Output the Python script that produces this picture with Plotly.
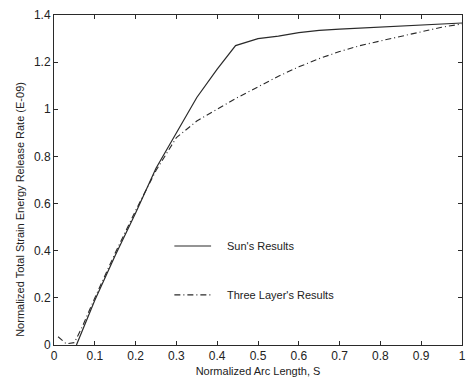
import plotly.graph_objects as go

# Sun's Results (solid)
sun_s = [0.055, 0.1, 0.15, 0.2, 0.25, 0.3, 0.35, 0.4, 0.445, 0.5, 0.55, 0.6, 0.65, 0.7, 0.8, 0.9, 1.0]
sun_g = [0.0, 0.19, 0.38, 0.56, 0.75, 0.90, 1.05, 1.17, 1.27, 1.30, 1.31, 1.325, 1.335, 1.34, 1.348, 1.355, 1.366]

# Three Layer's Results (dash-dot)
three_s = [0.01, 0.03, 0.05, 0.07, 0.1, 0.15, 0.2, 0.25, 0.3, 0.35, 0.4, 0.45, 0.5, 0.55, 0.6, 0.65,
           0.7, 0.75, 0.8, 0.85, 0.9, 0.95, 1.0]
three_g = [0.035, 0.005, 0.01, 0.08, 0.2, 0.39, 0.57, 0.74, 0.88, 0.95, 1.0, 1.05, 1.095, 1.14, 1.18,
           1.215, 1.245, 1.27, 1.29, 1.31, 1.33, 1.348, 1.362]

x_ticks = [0, 0.1, 0.2, 0.3, 0.4, 0.5, 0.6, 0.7, 0.8, 0.9, 1]
x_labels = ["0", "0.1", "0.2", "0.3", "0.4", "0.5", "0.6", "0.7", "0.8", "0.9", "1"]
y_ticks = [0, 0.2, 0.4, 0.6, 0.8, 1.0, 1.2, 1.4]
y_labels = ["0", "0.2", "0.4", "0.6", "0.8", "1", "1.2", "1.4"]

names = ["Sun's Results", "Three Layer's Results"]
ink = "#2a2a2a"
font = "Liberation Sans, Arial, sans-serif"

fig = go.Figure()
fig.add_trace(go.Scatter(x=sun_s, y=sun_g, mode="lines", name=names[0],
                         line=dict(color=ink, width=1.2), showlegend=False))
fig.add_trace(go.Scatter(x=three_s, y=three_g, mode="lines", name=names[1],
                         line=dict(color=ink, width=1.1, dash="6px,3px,1px,3px"), showlegend=False))

axis_common = dict(showline=True, linecolor=ink, linewidth=1, mirror="ticks", ticks="inside",
                   ticklen=4, tickcolor=ink, showgrid=False, zeroline=False,
                   tickfont=dict(family=font, size=12, color="#222"))

fig.update_xaxes(range=[0, 1], tickvals=x_ticks, ticktext=x_labels,
                 title=dict(text="Normalized Arc Length, S", font=dict(family=font, size=11, color="#222"),
                            standoff=4), **axis_common)
fig.update_yaxes(range=[0, 1.4], tickvals=y_ticks, ticktext=y_labels, **axis_common)

# y-axis title placed as in the reference (slightly below centre)
fig.add_annotation(text="Normalized Total Strain Energy Release Rate (E-09)", xref="paper", yref="paper",
                   x=-0.083, y=0.41, textangle=-90, showarrow=False,
                   font=dict(family=font, size=11, color="#222"), xanchor="center", yanchor="middle")

# legend drawn inside the plot
legend_rows = [(0.30, "solid"), (0.152, "6px,3px,1px,3px")]
for (yy, dash), name in zip(legend_rows, names):
    fig.add_shape(type="line", xref="paper", yref="paper", x0=0.295, x1=0.385, y0=yy, y1=yy,
                  line=dict(color=ink, width=1.1, dash=dash))
    fig.add_annotation(text=name, xref="paper", yref="paper", x=0.418, y=yy, xanchor="left",
                       yanchor="middle", showarrow=False, font=dict(family=font, size=11, color="#222"))

fig.update_layout(width=470, height=383, margin=dict(l=54, r=4, t=15, b=38),
                  paper_bgcolor="white", plot_bgcolor="white")

fig.write_html("out.html", config={"displayModeBar": False},
               post_script="document.body.style.margin='0';document.body.style.overflow='hidden';")
